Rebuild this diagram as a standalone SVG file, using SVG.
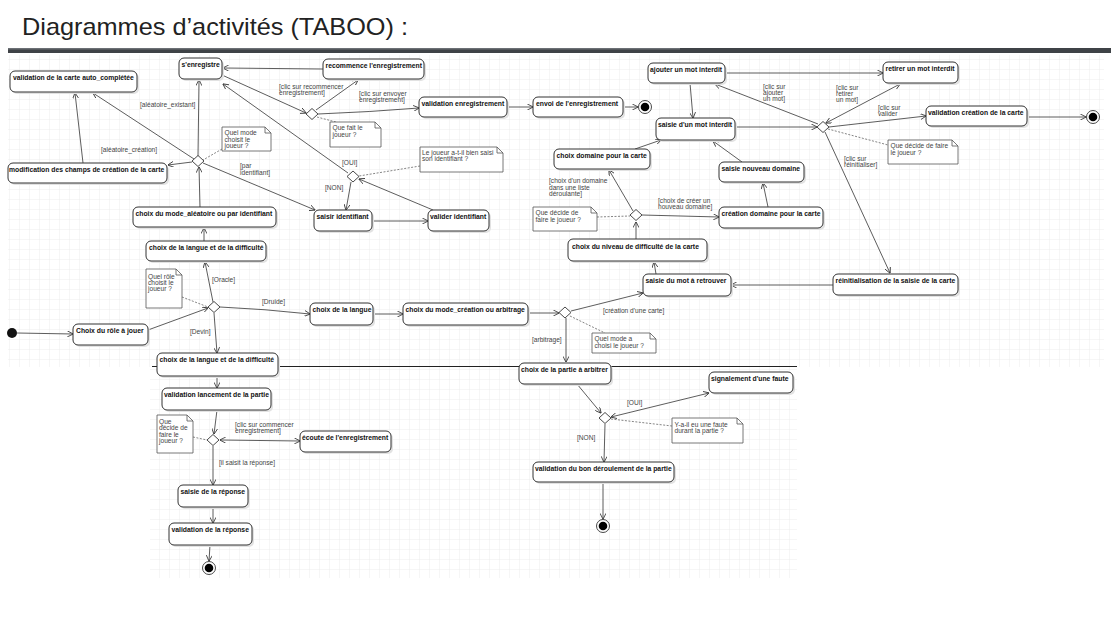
<svg xmlns="http://www.w3.org/2000/svg" width="1111" height="631" viewBox="0 0 1111 631">
<defs>
<pattern id="grid" width="10" height="10" patternUnits="userSpaceOnUse">
<path d="M10,0 V10 H0" fill="none" stroke="#e8e8e8" stroke-width="0.8"/>
</pattern>
<marker id="ah" viewBox="0 0 10 10" refX="9.5" refY="5" markerWidth="6" markerHeight="6" markerUnits="userSpaceOnUse" orient="auto-start-reverse">
<path d="M0,0 L10,5 L0,10" fill="none" stroke="#333" stroke-width="1.4"/>
</marker>
</defs>
<style>
.title{font-family:"Liberation Sans",Arial,sans-serif;font-size:24px;fill:#222}
.box{fill:#fff;stroke:#333;stroke-width:1}
.sh{fill:#e2e2e2;stroke:none}
.t{font-family:"Liberation Sans",Arial,sans-serif;font-size:6.8px;font-weight:bold;fill:#111}
.g{font-family:"Liberation Sans",Arial,sans-serif;font-size:6.6px;fill:#444}
.nt{fill:#fff;stroke:#555;stroke-width:0.8}
.e{fill:none;stroke:#333;stroke-width:0.8}
.ea{fill:none;stroke:#333;stroke-width:0.8;marker-end:url(#ah)}
.eb{fill:none;stroke:#333;stroke-width:0.8;marker-end:url(#ah);marker-start:url(#ah)}
.d{fill:none;stroke:#666;stroke-width:0.8;stroke-dasharray:2,1.5}
.dm{fill:#fff;stroke:#333;stroke-width:0.9}
</style>
<rect width="1111" height="631" fill="#fff"/>
<text class="title" x="22" y="35" textLength="386" lengthAdjust="spacingAndGlyphs">Diagrammes d’activités (TABOO) :</text>
<rect x="8" y="48" width="1103" height="5" fill="#3f4347"/>
<rect x="8" y="48" width="672" height="1.5" fill="#6c7075"/>
<rect x="8" y="55" width="1096" height="312" fill="url(#grid)"/>
<rect x="150" y="367" width="647" height="211" fill="url(#grid)"/>
<line x1="152" y1="366.5" x2="797" y2="366.5" stroke="#222" stroke-width="1"/>

<g id="connectors">
<line class="ea" x1="17" y1="333" x2="73" y2="334"/>
<line class="ea" x1="148" y1="330" x2="208" y2="308"/>
<line class="ea" x1="213" y1="302" x2="205" y2="262"/>
<path class="ea" d="M220,307 Q265,309 310,314"/>
<line class="ea" x1="214" y1="313" x2="217" y2="353"/>
<line class="d" x1="182" y1="297" x2="208" y2="307"/>
<line class="ea" x1="204" y1="241" x2="204" y2="228"/>
<line class="ea" x1="200" y1="207" x2="199" y2="167"/>
<line class="ea" x1="198" y1="156" x2="199" y2="80"/>
<line class="ea" x1="194" y1="159" x2="93" y2="93"/>
<line class="ea" x1="192" y1="162" x2="168" y2="165"/>
<line class="ea" x1="83" y1="163" x2="75" y2="93"/>
<line class="ea" x1="203" y1="163" x2="315" y2="210"/>
<line class="d" x1="222" y1="149" x2="203" y2="160"/>
<line class="ea" x1="372" y1="221" x2="428" y2="221"/>
<line class="ea" x1="433" y1="210" x2="359" y2="179"/>
<line class="ea" x1="351" y1="182" x2="346" y2="210"/>
<line class="ea" x1="348" y1="173" x2="223" y2="84"/>
<line class="d" x1="420" y1="166" x2="359" y2="176"/>
<line class="ea" x1="222" y1="75" x2="306" y2="113"/>
<line class="ea" x1="316" y1="110" x2="358" y2="80"/>
<line class="ea" x1="323" y1="69" x2="223" y2="68"/>
<path class="ea" d="M318,114 Q370,112 419,108"/>
<line class="d" x1="317" y1="117" x2="336" y2="122"/>
<line class="ea" x1="507" y1="107" x2="533" y2="107"/>
<line class="ea" x1="623" y1="107" x2="638" y2="107"/>
<line class="ea" x1="373" y1="314" x2="403" y2="314"/>
<line class="ea" x1="528" y1="313" x2="559" y2="313"/>
<line class="ea" x1="571" y1="311" x2="643" y2="293"/>
<line class="ea" x1="566" y1="318" x2="566" y2="362"/>
<line class="d" x1="570" y1="316" x2="605" y2="333"/>
<line class="ea" x1="833" y1="285" x2="731" y2="285"/>
<line class="ea" x1="656" y1="274" x2="654" y2="262"/>
<line class="ea" x1="636" y1="239" x2="636" y2="222"/>
<line class="ea" x1="633" y1="211" x2="609" y2="170"/>
<line class="ea" x1="642" y1="215" x2="719" y2="217"/>
<line class="d" x1="597" y1="217" x2="630" y2="216"/>
<line class="ea" x1="768" y1="207" x2="763" y2="183"/>
<line class="ea" x1="742" y1="162" x2="713" y2="141"/>
<line class="ea" x1="635" y1="149" x2="661" y2="140"/>
<line class="ea" x1="690" y1="83" x2="693" y2="118"/>
<line class="ea" x1="725" y1="73" x2="883" y2="73"/>
<line class="ea" x1="735" y1="127" x2="817" y2="127"/>
<line class="ea" x1="818" y1="124" x2="715" y2="84"/>
<line class="eb" x1="826" y1="123" x2="900" y2="84"/>
<line class="ea" x1="829" y1="127" x2="926" y2="116"/>
<line class="ea" x1="1027" y1="117" x2="1086" y2="117"/>
<line class="d" x1="828" y1="129" x2="888" y2="145"/>
<line class="ea" x1="825" y1="132" x2="890" y2="273"/>
<line class="ea" x1="217" y1="376" x2="217" y2="388"/>
<line class="ea" x1="217" y1="410" x2="214" y2="434"/>
<line class="d" x1="193" y1="437" x2="207" y2="440"/>
<line class="eb" x1="220" y1="440" x2="300" y2="441"/>
<line class="ea" x1="213" y1="446" x2="213" y2="485"/>
<line class="ea" x1="213" y1="507" x2="213" y2="523"/>
<line class="ea" x1="210" y1="545" x2="209" y2="561"/>
<line class="ea" x1="577" y1="384" x2="601" y2="413"/>
<line class="eb" x1="611" y1="417" x2="709" y2="393"/>
<line class="d" x1="611" y1="419" x2="672" y2="426"/>
<line class="ea" x1="605" y1="424" x2="604" y2="462"/>
<line class="ea" x1="603" y1="482" x2="603" y2="519"/>
</g>

<g id="labels">
<text class="g" x="140" y="107">[aléatoire_existant]</text>
<text class="g" x="101" y="152">[aléatoire_création]</text>
<text class="g" x="240" y="168">[par</text>
<text class="g" x="240" y="174.5">identifiant]</text>
<text class="g" x="279" y="89">[clic sur recommencer</text>
<text class="g" x="279" y="95">enregistrement]</text>
<text class="g" x="359" y="96">[clic sur envoyer</text>
<text class="g" x="359" y="102">enregistrement]</text>
<text class="g" x="342" y="165">[OUI]</text>
<text class="g" x="325" y="190">[NON]</text>
<text class="g" x="212" y="282">[Oracle]</text>
<text class="g" x="262" y="304">[Druide]</text>
<text class="g" x="190" y="334">[Devin]</text>
<text class="g" x="603" y="313">[création d'une carte]</text>
<text class="g" x="532" y="342">[arbitrage]</text>
<text class="g" x="549" y="183">[choix d'un domaine</text>
<text class="g" x="549" y="189.5">dans une liste</text>
<text class="g" x="549" y="196">déroulante]</text>
<text class="g" x="658" y="203">[choix de créer un</text>
<text class="g" x="658" y="209">nouveau domaine]</text>
<text class="g" x="763" y="89">[clic sur</text>
<text class="g" x="763" y="95">ajouter</text>
<text class="g" x="763" y="101">un mot]</text>
<text class="g" x="836" y="90">[clic sur</text>
<text class="g" x="836" y="96">retirer</text>
<text class="g" x="836" y="102">un mot]</text>
<text class="g" x="878" y="110">[clic sur</text>
<text class="g" x="878" y="116">valider</text>
<text class="g" x="844" y="161">[clic sur</text>
<text class="g" x="844" y="167">réinitialiser]</text>
<text class="g" x="235" y="427">[clic sur commencer</text>
<text class="g" x="235" y="433">enregistrement]</text>
<text class="g" x="219" y="465">[il saisit la réponse]</text>
<text class="g" x="627" y="405">[OUI]</text>
<text class="g" x="577" y="440">[NON]</text>
</g>

<g id="start"><circle cx="12" cy="333" r="5" fill="#111"/></g>

<g id="n1"><rect class="sh" x="12" y="73" width="127" height="21" rx="5"/><rect class="box" x="10" y="71" width="127" height="21" rx="5"/><text class="t" x="13" y="79.5">validation de la carte auto_complétée</text></g>
<g id="n2"><rect class="sh" x="181" y="60" width="43" height="21" rx="5"/><rect class="box" x="179" y="58" width="43" height="21" rx="5"/><text class="t" x="181.5" y="66.5">s'enregistre</text></g>
<g id="n3"><rect class="sh" x="10" y="165" width="159" height="20" rx="5"/><rect class="box" x="8" y="163" width="159" height="20" rx="5"/><text class="t" x="9" y="172">modification des champs de création de la carte</text></g>
<g id="n4"><rect class="sh" x="325" y="61" width="101" height="20" rx="5"/><rect class="box" x="323" y="59" width="101" height="20" rx="5"/><text class="t" x="325.5" y="67.5">recommence l'enregistrement</text></g>
<g id="n5"><rect class="sh" x="421" y="99" width="88" height="20" rx="5"/><rect class="box" x="419" y="97" width="88" height="20" rx="5"/><text class="t" x="421.5" y="105.5">validation enregistrement</text></g>
<g id="n6"><rect class="sh" x="535" y="99" width="90" height="20" rx="5"/><rect class="box" x="533" y="97" width="90" height="20" rx="5"/><text class="t" x="536" y="105.5">envoi de l'enregistrement</text></g>
<g id="n7"><rect class="sh" x="135" y="209" width="143" height="20" rx="5"/><rect class="box" x="133" y="207" width="143" height="20" rx="5"/><text class="t" x="135.5" y="215.5">choix du mode_aléatoire ou par identifiant</text></g>
<g id="n8"><rect class="sh" x="148" y="243" width="120" height="20" rx="5"/><rect class="box" x="146" y="241" width="120" height="20" rx="5"/><text class="t" x="149" y="249.5">choix de la langue et de la difficulté</text></g>
<g id="n9"><rect class="sh" x="316" y="212" width="58" height="21" rx="5"/><rect class="box" x="314" y="210" width="58" height="21" rx="5"/><text class="t" x="316.5" y="218.5">saisir identifiant</text></g>
<g id="n10"><rect class="sh" x="430" y="212" width="61" height="21" rx="5"/><rect class="box" x="428" y="210" width="61" height="21" rx="5"/><text class="t" x="430" y="218.5">valider identifiant</text></g>
<g id="n11"><rect class="sh" x="75" y="326" width="75" height="21" rx="5"/><rect class="box" x="73" y="324" width="75" height="21" rx="5"/><text class="t" x="76" y="333">Choix du rôle à jouer</text></g>
<g id="n12"><rect class="sh" x="312" y="305" width="63" height="22" rx="5"/><rect class="box" x="310" y="303" width="63" height="22" rx="5"/><text class="t" x="312.5" y="311.5">choix de la langue</text></g>
<g id="n13"><rect class="sh" x="405" y="305" width="125" height="22" rx="5"/><rect class="box" x="403" y="303" width="125" height="22" rx="5"/><text class="t" x="405.5" y="311.5">choix du mode_création ou arbitrage</text></g>
<g id="n14"><rect class="sh" x="650" y="65" width="77" height="20" rx="5"/><rect class="box" x="648" y="63" width="77" height="20" rx="5"/><text class="t" x="650" y="71.5">ajouter un mot interdit</text></g>
<g id="n15"><rect class="sh" x="658" y="120" width="79" height="22" rx="5"/><rect class="box" x="656" y="118" width="79" height="22" rx="5"/><text class="t" x="658" y="127">saisie d'un mot interdit</text></g>
<g id="n16"><rect class="sh" x="885" y="64" width="75" height="21" rx="5"/><rect class="box" x="883" y="62" width="75" height="21" rx="5"/><text class="t" x="885.5" y="70.5">retirer un mot interdit</text></g>
<g id="n17"><rect class="sh" x="928" y="108" width="101" height="20" rx="5"/><rect class="box" x="926" y="106" width="101" height="20" rx="5"/><text class="t" x="928" y="114.5">validation création de la carte</text></g>
<g id="n18"><rect class="sh" x="556" y="151" width="96" height="20" rx="5"/><rect class="box" x="554" y="149" width="96" height="20" rx="5"/><text class="t" x="556.5" y="157.5">choix domaine pour la carte</text></g>
<g id="n19"><rect class="sh" x="721" y="164" width="85" height="20" rx="5"/><rect class="box" x="719" y="162" width="85" height="20" rx="5"/><text class="t" x="721.5" y="170.5">saisie nouveau domaine</text></g>
<g id="n20"><rect class="sh" x="721" y="209" width="104" height="21" rx="5"/><rect class="box" x="719" y="207" width="104" height="21" rx="5"/><text class="t" x="721.5" y="215.5">création domaine pour la carte</text></g>
<g id="n21"><rect class="sh" x="570" y="241" width="139" height="22" rx="5"/><rect class="box" x="568" y="239" width="139" height="22" rx="5"/><text class="t" x="572" y="249">choix du niveau de difficulté de la carte</text></g>
<g id="n22"><rect class="sh" x="645" y="276" width="88" height="22" rx="5"/><rect class="box" x="643" y="274" width="88" height="22" rx="5"/><text class="t" x="645.5" y="282.5">saisie du mot à retrouver</text></g>
<g id="n23"><rect class="sh" x="835" y="276" width="125" height="21" rx="5"/><rect class="box" x="833" y="274" width="125" height="21" rx="5"/><text class="t" x="835.5" y="282.5">réinitialisation de la saisie de la carte</text></g>
<g id="n24"><rect class="sh" x="159" y="355" width="121" height="23" rx="5"/><rect class="box" x="157" y="353" width="121" height="23" rx="5"/><text class="t" x="159.5" y="361.5">choix de la langue et de la difficulté</text></g>
<g id="n25"><rect class="sh" x="164" y="390" width="109" height="22" rx="5"/><rect class="box" x="162" y="388" width="109" height="22" rx="5"/><text class="t" x="164" y="396.5">validation lancement de la partie</text></g>
<g id="n26"><rect class="sh" x="302" y="433" width="91" height="21" rx="5"/><rect class="box" x="300" y="431" width="91" height="21" rx="5"/><text class="t" x="302" y="439.5">écoute de l'enregistrement</text></g>
<g id="n27"><rect class="sh" x="180" y="487" width="70" height="22" rx="5"/><rect class="box" x="178" y="485" width="70" height="22" rx="5"/><text class="t" x="180.5" y="494">saisie de la réponse</text></g>
<g id="n28"><rect class="sh" x="171" y="525" width="83" height="22" rx="5"/><rect class="box" x="169" y="523" width="83" height="22" rx="5"/><text class="t" x="171.5" y="532">validation de la réponse</text></g>
<g id="n29"><rect class="sh" x="521" y="365" width="92" height="21" rx="5"/><rect class="box" x="519" y="363" width="92" height="21" rx="5"/><text class="t" x="521" y="371.5">choix de la partie à arbitrer</text></g>
<g id="n30"><rect class="sh" x="711" y="374" width="84" height="21" rx="5"/><rect class="box" x="709" y="372" width="84" height="21" rx="5"/><text class="t" x="711" y="380.5">signalement d'une faute</text></g>
<g id="n31"><rect class="sh" x="535" y="464" width="141" height="20" rx="5"/><rect class="box" x="533" y="462" width="141" height="20" rx="5"/><text class="t" x="535" y="470.5">validation du bon déroulement de la partie</text></g>

<g id="decisions">
<path class="dm" d="M198,155.5 L204,161 L198,166.5 L192,161 Z"/>
<path class="dm" d="M312,108.5 L318,114 L312,119.5 L306,114 Z"/>
<path class="dm" d="M353,171 L359,176.5 L353,182 L347,176.5 Z"/>
<path class="dm" d="M214,301.5 L220,307 L214,312.5 L208,307 Z"/>
<path class="dm" d="M565,307 L571,312.5 L565,318 L559,312.5 Z"/>
<path class="dm" d="M636,209.5 L642,215 L636,220.5 L630,215 Z"/>
<path class="dm" d="M823,121.5 L829,127 L823,132.5 L817,127 Z"/>
<path class="dm" d="M213,434.5 L219,440 L213,445.5 L207,440 Z"/>
<path class="dm" d="M605,412.5 L611,418 L605,423.5 L599,418 Z"/>
</g>

<g id="finals">
<circle cx="645" cy="107" r="6.5" fill="#fff" stroke="#333" stroke-width="0.9"/><circle cx="645" cy="107" r="4.3" fill="#000"/>
<circle cx="1093" cy="117" r="6.5" fill="#fff" stroke="#333" stroke-width="0.9"/><circle cx="1093" cy="117" r="4.3" fill="#000"/>
<circle cx="209" cy="568" r="6.5" fill="#fff" stroke="#333" stroke-width="0.9"/><circle cx="209" cy="568" r="4.3" fill="#000"/>
<circle cx="603" cy="526" r="6.5" fill="#fff" stroke="#333" stroke-width="0.9"/><circle cx="603" cy="526" r="4.3" fill="#000"/>
</g>

<g id="notes">
<g id="note1"><path class="nt" d="M222,127 H265 L271,133 V151 H222 Z M265,127 V133 H271"/><text class="g" x="224.5" y="135">Quel mode</text><text class="g" x="224.5" y="141.5">choisit le</text><text class="g" x="224.5" y="148">joueur ?</text></g>
<g id="note2"><path class="nt" d="M146,269 H176 L182,275 V308 H146 Z M176,269 V275 H182"/><text class="g" x="148" y="279">Quel rôle</text><text class="g" x="148" y="285">choisit le</text><text class="g" x="148" y="291">joueur ?</text></g>
<g id="note3"><path class="nt" d="M330,122 H375 L381,128 V147 H330 Z M375,122 V128 H381"/><text class="g" x="332.5" y="130">Que fait le</text><text class="g" x="332.5" y="136.5">joueur ?</text></g>
<g id="note4"><path class="nt" d="M420,147 H497 L503,153 V172 H420 Z M497,147 V153 H503"/><text class="g" x="422" y="155">Le joueur a-t-il bien saisi</text><text class="g" x="422" y="161">son identifiant ?</text></g>
<g id="note5"><path class="nt" d="M592,333 H650 L656,339 V353 H592 Z M650,333 V339 H656"/><text class="g" x="594.5" y="341">Quel mode a</text><text class="g" x="594.5" y="347.5">choisi le joueur ?</text></g>
<g id="note6"><path class="nt" d="M533,207 H591 L597,213 V231 H533 Z M591,207 V213 H597"/><text class="g" x="535.5" y="215">Que décide de</text><text class="g" x="535.5" y="221.5">faire le joueur ?</text></g>
<g id="note7"><path class="nt" d="M888,140 H952 L958,146 V164 H888 Z M952,140 V146 H958"/><text class="g" x="890.5" y="148">Que décide de faire</text><text class="g" x="890.5" y="154.5">le joueur ?</text></g>
<g id="note8"><path class="nt" d="M157,415 H187 L193,421 V453 H157 Z M187,415 V421 H193"/><text class="g" x="159" y="423.5">Que</text><text class="g" x="159" y="430">décide de</text><text class="g" x="159" y="436.5">faire le</text><text class="g" x="159" y="443">joueur ?</text></g>
<g id="note9"><path class="nt" d="M672,418 H737 L743,424 V443 H672 Z M737,418 V424 H743"/><text class="g" x="674.5" y="426.5">Y-a-il eu une faute</text><text class="g" x="674.5" y="433">durant la partie ?</text></g>
</g>
</svg>
